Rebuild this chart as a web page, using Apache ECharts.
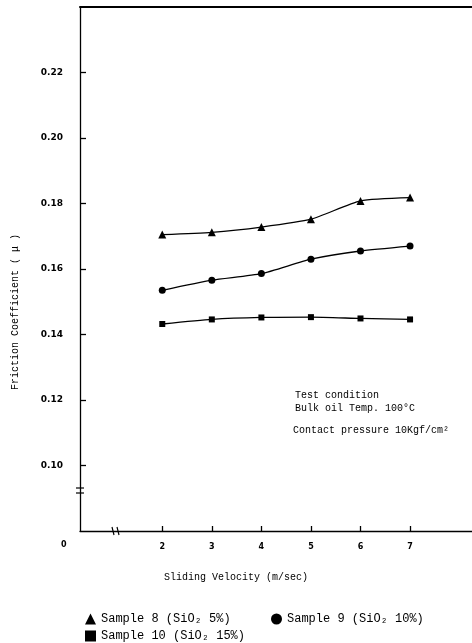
<!DOCTYPE html>
<html>
<head>
<meta charset="utf-8">
<script src="https://cdn.jsdelivr.net/npm/echarts@6/dist/echarts.min.js"></script>
<style>html,body{margin:0;padding:0;background:#fff}#c{width:472px;height:643px}</style>
</head>
<body>
<div id="c"></div>
<script>
// ---- data ----
var velocity = [2, 3, 4, 5, 6, 7];
var sample8 = [0.1705, 0.1712, 0.1728, 0.1752, 0.1808, 0.1818];
var sample9 = [0.1535, 0.1566, 0.1586, 0.1630, 0.1655, 0.1670];
var sample10 = [0.1432, 0.1446, 0.1452, 0.1453, 0.1449, 0.1446];
var seriesNames = ['Sample 8 (SiO₂ 5%)', 'Sample 9 (SiO₂ 10%)', 'Sample 10 (SiO₂ 15%)'];
var yTicks = [0.10, 0.12, 0.14, 0.16, 0.18, 0.20, 0.22];
var xTicks = [2, 3, 4, 5, 6, 7];
var yTickLabels = ['0.10', '0.12', '0.14', '0.16', '0.18', '0.20', '0.22'];
var conditionLines = ['Test condition', 'Bulk oil Temp. 100°C', 'Contact pressure 10Kgf/cm²'];

function pairs(xs, ys) { return xs.map(function (x, i) { return [x, ys[i]]; }); }

var mono = '"Liberation Mono", "DejaVu Sans Mono", monospace';
var chart = echarts.init(document.getElementById('c'));
var lineStyle = { color: '#000', width: 1.3 };
function mkSeries(name, data, symbol, size) {
  return {
    name: name, type: 'line', smooth: 0.2, data: pairs(velocity, data),
    symbol: symbol, symbolSize: size, showSymbol: true,
    itemStyle: { color: '#000' }, lineStyle: lineStyle, animation: false
  };
}
chart.setOption({
  animation: false,
  backgroundColor: '#fff',
  grid: { left: 80, top: 7, right: 0, bottom: 112 },
  xAxis: [{
    type: 'value', min: 0.34, max: 8.25,
    axisLine: { lineStyle: { color: '#000', width: 1.3 } },
    axisTick: { inside: true, length: 5, customValues: xTicks, lineStyle: { color: '#000', width: 1.3 } },
    axisLabel: { customValues: xTicks, margin: 12, color: '#000', fontSize: 8, fontWeight: 'bold', fontFamily: 'DejaVu Sans' },
    splitLine: { show: false }
  }, {
    type: 'value', position: 'top', min: 0.34, max: 8.25,
    axisLine: { show: true, lineStyle: { color: '#000', width: 2 } },
    axisTick: { show: false }, axisLabel: { show: false }, splitLine: { show: false }
  }],
  yAxis: {
    type: 'value', min: 0.08, max: 0.24,
    axisLine: { show: true, lineStyle: { color: '#000', width: 1.3 } },
    axisTick: { inside: true, length: 6, customValues: yTicks, lineStyle: { color: '#000', width: 1.3 } },
    axisLabel: {
      customValues: yTicks, margin: 17, color: '#000', fontSize: 9, fontWeight: 'bold', fontFamily: 'DejaVu Sans',
      formatter: function (v) {
        var i = yTicks.findIndex(function (t) { return Math.abs(t - v) < 1e-6; });
        return i >= 0 ? yTickLabels[i] : '';
      }
    },
    splitLine: { show: false }
  },
  legend: [
    { data: [{ name: seriesNames[0], icon: 'triangle' }], left: 80, top: 608, itemWidth: 11, itemHeight: 11, itemGap: 0,
      textStyle: { fontFamily: mono, fontSize: 12, color: '#000' }, selectedMode: false },
    { data: [{ name: seriesNames[1], icon: 'circle' }], left: 266, top: 608, itemWidth: 11, itemHeight: 11,
      textStyle: { fontFamily: mono, fontSize: 12, color: '#000' }, selectedMode: false },
    { data: [{ name: seriesNames[2], icon: 'rect' }], left: 80, top: 625, itemWidth: 11, itemHeight: 11,
      textStyle: { fontFamily: mono, fontSize: 12, color: '#000' }, selectedMode: false }
  ],
  series: [
    mkSeries(seriesNames[0], sample8, 'triangle', 8),
    mkSeries(seriesNames[1], sample9, 'circle', 7),
    mkSeries(seriesNames[2], sample10, 'rect', 6)
  ],
  graphic: [
    { type: 'text', left: 61, top: 541, style: { text: '0', font: 'bold 8px "DejaVu Sans"', fill: '#000' } },
    { type: 'text', x: 15, y: 312, rotation: Math.PI / 2,
      style: { text: 'Friction Coefficient ( μ )', font: '10px ' + mono, fill: '#000', align: 'center', verticalAlign: 'middle' } },
    { type: 'text', left: 'center', top: 572, x: 0,
      style: { text: 'Sliding Velocity (m/sec)', font: '10px ' + mono, fill: '#000' } },
    { type: 'text', left: 295, top: 390, style: { text: conditionLines[0], font: '10px ' + mono, fill: '#000' } },
    { type: 'text', left: 295, top: 403, style: { text: conditionLines[1], font: '10px ' + mono, fill: '#000' } },
    { type: 'text', left: 293, top: 425, style: { text: conditionLines[2], font: '10px ' + mono, fill: '#000' } },
    // axis break marks
    { type: 'rect', shape: { x: 76, y: 488, width: 8, height: 5 }, style: { fill: '#fff' } },
    { type: 'line', shape: { x1: 76, y1: 488, x2: 84, y2: 488 }, style: { stroke: '#000', lineWidth: 1.2 } },
    { type: 'line', shape: { x1: 76, y1: 493, x2: 84, y2: 493 }, style: { stroke: '#000', lineWidth: 1.2 } },
    { type: 'rect', shape: { x: 113, y: 528, width: 5, height: 6 }, style: { fill: '#fff' } },
    { type: 'line', shape: { x1: 112, y1: 527, x2: 114, y2: 535 }, style: { stroke: '#000', lineWidth: 1.2 } },
    { type: 'line', shape: { x1: 117, y1: 527, x2: 119, y2: 535 }, style: { stroke: '#000', lineWidth: 1.2 } }
  ]
});
</script>
</body>
</html>
